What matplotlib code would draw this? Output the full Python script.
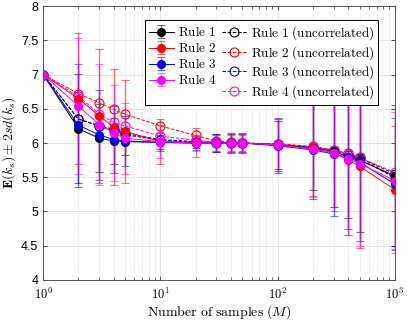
import matplotlib
matplotlib.use("Agg")
import matplotlib.pyplot as plt
import numpy as np
from matplotlib.ticker import FixedLocator, FixedFormatter, NullFormatter

plt.rcParams["font.family"] = "Liberation Sans"
plt.rcParams["mathtext.fontset"] = "cm"

M = [1, 2, 3, 4, 5, 10, 20, 30, 40, 50, 100, 200, 300, 400, 500, 1000]

# mean E(k_s), correlated rules
rule1 = [7.0, 6.21, 6.07, 6.03, 6.02, 6.01, 6.0, 6.0, 6.0, 6.0, 5.97, 5.93, 5.88, 5.80, 5.75, 5.52]
rule2 = [7.0, 6.65, 6.40, 6.23, 6.17, 6.02, 6.01, 6.0, 6.0, 6.0, 5.97, 5.92, 5.86, 5.75, 5.66, 5.32]
rule3 = [7.0, 6.26, 6.12, 6.05, 6.03, 6.01, 6.0, 6.0, 6.0, 6.0, 5.96, 5.90, 5.84, 5.79, 5.72, 5.40]
rule4 = [7.0, 6.54, 6.27, 6.15, 6.07, 6.02, 6.0, 6.0, 6.0, 6.0, 5.97, 5.91, 5.86, 5.77, 5.70, 5.45]

# 2*sd half widths
err1 = [0, 0.80, 0.50, 0.33, 0.20, 0.10, 0.08, 0.13, 0.13, 0.13, 0.35, 0.62, 0.82, 0.90, 1.05, 1.03]
err2 = [0, 0.95, 0.98, 0.85, 0.75, 0.33, 0.21, 0.12, 0.12, 0.12, 0.38, 0.70, 0.85, 1.10, 1.20, 0.93]
err3 = [0, 0.90, 0.66, 0.49, 0.37, 0.13, 0.10, 0.13, 0.14, 0.14, 0.40, 0.72, 0.90, 1.05, 1.15, 0.96]
err4 = [0, 1.00, 0.88, 0.70, 0.52, 0.24, 0.12, 0.12, 0.13, 0.13, 0.38, 0.70, 0.80, 1.12, 1.20, 1.00]

# uncorrelated
unc1 = [7.0, 6.35, 6.25, 6.20, 6.14, 6.05, 6.02, 6.01, 6.0, 6.0, 5.98, 5.94, 5.89, 5.83, 5.78, 5.55]
unc2 = [7.0, 6.72, 6.59, 6.49, 6.42, 6.25, 6.11, 6.03, 6.01, 6.0, 5.99, 5.95, 5.90, 5.85, 5.80, 5.48]
unc3 = [7.0, 6.35, 6.25, 6.17, 6.12, 6.04, 6.01, 6.0, 6.0, 6.0, 5.97, 5.93, 5.88, 5.82, 5.76, 5.50]
unc4 = [7.0, 6.68, 6.43, 6.30, 6.25, 6.10, 6.04, 6.01, 6.0, 6.0, 5.98, 5.94, 5.90, 5.84, 5.79, 5.57]

colors = ["black", "red", "blue", "magenta"]
labels = ["Rule 1", "Rule 2", "Rule 3", "Rule 4"]

fig = plt.figure(figsize=(4.07, 3.21), dpi=100)
ax = fig.add_axes([0.106, 0.128, 0.864, 0.853])

handles = []
for mean, err, c, lab in zip([rule1, rule2, rule3, rule4], [err1, err2, err3, err4], colors, labels):
    h = ax.errorbar(M, mean, yerr=err, fmt="o-", color=c, ecolor=c, markersize=5.5,
                    linewidth=0.7, elinewidth=1.0, capsize=3, capthick=0.8,
                    label=r"$\mathrm{%s}$" % lab.replace(" ", r"\ "))
    for part in h[2]:
        part.set_alpha(0.55)
    for cap in h[1]:
        cap.set_alpha(0.55)
    handles.append(h)

for mean, c, lab in zip([unc1, unc2, unc3, unc4], colors, labels):
    h, = ax.plot(M, mean, "o--", color=c, markerfacecolor="none", markersize=6.5,
                 linewidth=0.7, markeredgewidth=0.8,
                 label=r"$\mathrm{%s\ (uncorrelated)}$" % lab.replace(" ", r"\ "))
    handles.append(h)

ax.set_xscale("log")
ax.set_xlim(1, 1000)
ax.set_ylim(4, 8)
ax.set_yticks(np.arange(4, 8.01, 0.5))
ax.set_yticklabels(["4", "4.5", "5", "5.5", "6", "6.5", "7", "7.5", "8"])
ax.xaxis.set_major_locator(FixedLocator([1, 10, 100, 1000]))
ax.xaxis.set_major_formatter(FixedFormatter([r"$\mathsf{10^{%d}}$" % k for k in range(4)]))
ax.xaxis.set_minor_formatter(NullFormatter())

ax.grid(True, which="major", color="#e0e0e0", linewidth=0.6)
ax.grid(True, which="minor", axis="x", color="#d8d8d8", linestyle=":", linewidth=0.6)
ax.set_axisbelow(True)
ax.tick_params(which="both", direction="in", top=True, right=True, labelsize=9,
               color="#555555", length=3)
ax.tick_params(axis="x", pad=5)
ax.tick_params(which="minor", length=2)
for s in ax.spines.values():
    s.set_color("#555555")
    s.set_linewidth(0.7)

ax.set_xlabel(r"$\mathrm{Number\ of\ samples\ }(M)$", fontsize=10, labelpad=1)
ax.set_ylabel(r"$\mathbf{E}(k_s) \pm 2sd(k_s)$", fontsize=10, labelpad=2)

leg = ax.legend(handles=handles, ncol=2, loc="upper right", bbox_to_anchor=(0.972, 0.973),
                fontsize=9.5, fancybox=False, framealpha=1, edgecolor="black",
                handlelength=1.9, handletextpad=0.3, columnspacing=0.4,
                borderpad=0.3, labelspacing=0.15)
leg.get_frame().set_linewidth(0.7)

fig.savefig("out.png", dpi=100)
